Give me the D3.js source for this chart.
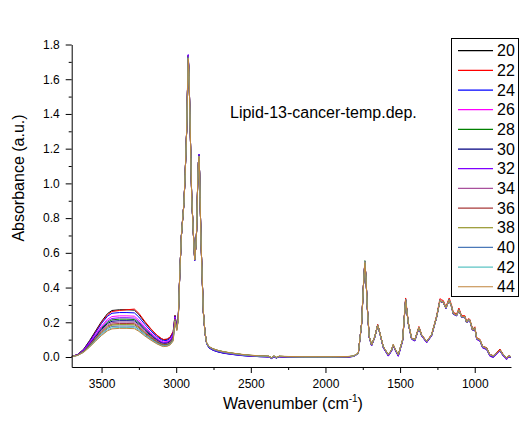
<!DOCTYPE html>
<html><head><meta charset="utf-8">
<script src="https://cdn.jsdelivr.net/npm/d3@7"></script>
<style>
body{margin:0;background:#fff}
svg{display:block}
text{font-family:Arial,"Liberation Sans",Helvetica,sans-serif;fill:#000}
</style>
</head><body>
<svg id="chart" width="521" height="421"></svg>
<script>
const wavenumbers = [3700,3660,3620,3580,3540,3500,3460,3430,3380,3330,3280,3250,3210,3170,3130,3100,3085,3060,3040,3020,3008,2996,
2986,2975,2965,2957,2948,2940,2930,2924,2919,2914,2908,2902,2896,2886,2876,2868,2863,2856,2851,2847,2843,2840,2835,2829,2818,2807,2796,
2780,2752,2720,2680,2620,2560,2500,2440,2380,2360,2345,2330,2310,2250,2150,2050,1950,1850,
1814,1780,1758,1745,1736,1728,1720,1707,1691,1669,1650,1635,1613,1579,1557,1546,1530,1512,
1483,1463,1445,1423,1401,1374,1356,1322,1289,1255,1233,1220,1211,1193,1171,1155,1144,1121,1106,1088,1066,1054,1040,1032,1014,999,987,965,947,920,898,876,853,831,809,787,770,760];

const temperatures = ["20","22","24","26","28","30","32","34","36","38","40","42","44"];
const seriesColors = ["#000000","#ff0000","#0000ff","#ff00ff","#008000","#000080","#8000ff","#a8509c","#a83a3a","#808000","#4a78b8","#5cc4c4","#c0843c"];

const s20 = [.003,.015,.045,.095,.150,.205,.250,.268,.272,.272,.270,.245,.200,.160,.125,.105,.100,.102,.115,.145,.240,.175,
.230,.500,.700,.790,.885,1.05,1.30,1.55,1.730,1.62,1.40,1.15,.920,.730,.560,.640,.730,1.00,1.12,1.160,1.06,.920,.720,.540,.260,.140,.080,
.058,.045,.036,.028,.020,.013,.008,.005,.003,-.006,.005,-.004,.003,.001,.000,.000,.000,.001,
.004,.020,.190,.420,.550,.450,.290,.117,.069,.117,.184,.136,.059,.012,.040,.069,.040,.012,
.098,.330,.194,.107,.098,.170,.126,.088,.126,.232,.326,.318,.318,.282,.330,.290,.251,.241,.272,.232,.232,.200,.215,.210,.155,.167,.107,.098,.059,.050,.012,.006,.021,.040,.012,-.008,.006,.002];

const s22 = [.003,.014,.042,.090,.145,.199,.243,.262,.268,.272,.276,.252,.205,.163,.127,.107,.101,.103,.116,.146,.238,.175,
.230,.500,.700,.790,.885,1.05,1.30,1.55,1.728,1.62,1.40,1.15,.920,.730,.560,.640,.730,1.00,1.12,1.165,1.06,.920,.720,.540,.260,.140,.080,
.056,.043,.034,.026,.018,.011,.007,.004,.002,-.007,.004,-.005,.002,.000,-.001,.000,.000,.001,
.004,.020,.192,.422,.552,.452,.292,.117,.069,.119,.188,.138,.059,.012,.041,.071,.041,.012,
.100,.340,.198,.110,.100,.176,.130,.090,.130,.238,.336,.328,.326,.290,.340,.298,.258,.248,.282,.238,.238,.206,.222,.215,.160,.174,.112,.102,.062,.054,.014,.008,.026,.046,.015,-.006,.008,.003];

const s24 = [.003,.014,.042,.089,.141,.193,.235,.252,.256,.256,.254,.230,.188,.150,.118,.099,.094,.096,.108,.138,.235,.172,
.228,.500,.700,.790,.885,1.05,1.30,1.56,1.740,1.63,1.40,1.15,.920,.730,.556,.640,.730,1.00,1.12,1.168,1.06,.920,.720,.540,.258,.138,.077,
.052,.038,.029,.021,.014,.008,.004,.002,.000,-.009,.002,-.007,.001,-.001,-.002,-.001,-.001,.000,
.003,.019,.190,.420,.548,.448,.288,.114,.065,.115,.184,.134,.055,.007,.036,.066,.036,.006,
.094,.330,.192,.104,.094,.168,.123,.084,.123,.230,.326,.316,.316,.280,.330,.288,.248,.238,.270,.230,.229,.197,.212,.207,.151,.164,.103,.094,.054,.045,.006,.000,.017,.037,.007,-.013,.002,-.002];

const s26 = [.003,.013,.039,.083,.131,.178,.218,.233,.237,.237,.235,.213,.174,.139,.109,.091,.087,.089,.100,.128,.230,.170,
.226,.500,.700,.790,.885,1.05,1.30,1.55,1.735,1.62,1.40,1.15,.920,.730,.560,.640,.730,1.00,1.12,1.162,1.06,.920,.720,.540,.260,.140,.080,
.057,.044,.035,.027,.019,.012,.007,.004,.002,-.007,.004,-.005,.002,.000,.000,.000,.000,.001,
.004,.020,.191,.421,.553,.451,.290,.116,.068,.117,.185,.136,.058,.010,.039,.068,.039,.010,
.097,.332,.194,.106,.097,.170,.126,.087,.126,.233,.328,.319,.319,.283,.331,.290,.251,.241,.273,.232,.232,.200,.215,.210,.154,.167,.106,.097,.058,.049,.010,.005,.021,.040,.011,-.009,.006,.002];

const s28 = [.002,.012,.036,.076,.120,.164,.200,.214,.218,.218,.216,.196,.160,.128,.100,.084,.080,.082,.092,.118,.225,.166,
.224,.500,.700,.790,.885,1.05,1.30,1.55,1.732,1.62,1.40,1.15,.920,.730,.560,.640,.730,1.00,1.12,1.160,1.06,.920,.720,.540,.260,.140,.081,
.059,.046,.037,.029,.021,.014,.009,.006,.004,-.005,.006,-.003,.004,.002,.001,.001,.001,.002,
.005,.021,.191,.421,.555,.451,.291,.118,.070,.118,.185,.137,.060,.013,.041,.070,.041,.013,
.099,.331,.195,.108,.099,.171,.127,.089,.127,.233,.327,.319,.319,.283,.331,.291,.252,.242,.273,.233,.233,.201,.216,.211,.156,.168,.108,.099,.060,.051,.013,.007,.022,.041,.013,-.007,.007,.003];

const s30 = [.002,.012,.035,.073,.116,.158,.193,.206,.209,.209,.208,.189,.154,.123,.096,.081,.077,.079,.089,.114,.222,.164,
.222,.500,.700,.790,.885,1.05,1.30,1.55,1.738,1.62,1.40,1.15,.920,.730,.555,.640,.730,1.00,1.12,1.164,1.06,.920,.720,.540,.258,.138,.078,
.053,.039,.030,.022,.015,.009,.005,.002,.001,-.008,.003,-.006,.001,-.001,-.001,-.001,.000,.000,
.003,.019,.189,.419,.547,.447,.288,.113,.064,.114,.183,.133,.054,.006,.035,.065,.035,.005,
.093,.328,.191,.103,.093,.166,.122,.083,.122,.229,.324,.315,.315,.279,.328,.287,.247,.237,.269,.229,.228,.196,.211,.206,.150,.163,.102,.093,.053,.044,.005,-.001,.016,.036,.006,-.014,.001,-.003];

const s32 = [.003,.012,.037,.079,.125,.170,.208,.222,.226,.226,.224,.203,.166,.133,.104,.087,.083,.085,.095,.122,.227,.168,
.225,.500,.700,.790,.885,1.05,1.30,1.56,1.742,1.63,1.40,1.15,.920,.730,.556,.640,.730,1.00,1.12,1.166,1.06,.920,.720,.540,.258,.138,.078,
.054,.040,.031,.023,.015,.009,.005,.002,.001,-.008,.003,-.006,.001,-.001,-.001,-.001,.000,.000,
.003,.019,.190,.420,.549,.448,.288,.113,.064,.114,.183,.133,.054,.005,.034,.064,.034,.004,
.092,.329,.191,.102,.092,.166,.121,.082,.121,.229,.325,.315,.315,.279,.328,.287,.247,.237,.269,.229,.228,.196,.211,.206,.150,.163,.101,.092,.052,.043,.004,-.002,.015,.035,.005,-.015,.001,-.003];

const s34 = [.002,.011,.033,.070,.111,.152,.185,.198,.201,.201,.200,.181,.148,.118,.093,.078,.074,.075,.085,.110,.219,.162,
.221,.500,.700,.790,.885,1.05,1.30,1.55,1.730,1.62,1.40,1.15,.920,.730,.560,.640,.730,1.00,1.12,1.158,1.06,.920,.720,.540,.260,.140,.080,
.058,.045,.036,.028,.020,.013,.008,.005,.003,-.006,.005,-.004,.003,.001,.000,.000,.000,.001,
.004,.020,.190,.420,.551,.450,.290,.117,.069,.117,.184,.136,.059,.012,.040,.069,.040,.012,
.098,.330,.194,.107,.098,.170,.126,.088,.126,.232,.326,.318,.318,.282,.330,.290,.251,.241,.272,.232,.232,.200,.215,.210,.155,.167,.107,.098,.059,.050,.012,.006,.021,.040,.012,-.008,.006,.002];

const s36 = [.002,.011,.032,.067,.107,.146,.178,.190,.193,.193,.192,.174,.142,.114,.089,.075,.071,.072,.082,.106,.216,.160,
.220,.500,.700,.790,.885,1.05,1.30,1.55,1.726,1.62,1.40,1.15,.920,.730,.560,.640,.730,1.00,1.12,1.158,1.06,.920,.720,.540,.260,.140,.081,
.059,.046,.037,.029,.021,.014,.009,.006,.004,-.005,.006,-.003,.004,.002,.001,.001,.001,.002,
.005,.021,.191,.421,.550,.451,.291,.118,.070,.118,.185,.137,.060,.013,.041,.070,.041,.013,
.099,.331,.195,.108,.099,.171,.127,.089,.127,.233,.327,.319,.319,.283,.331,.291,.252,.242,.273,.233,.233,.201,.216,.211,.156,.168,.108,.099,.060,.051,.013,.007,.022,.041,.013,-.007,.007,.003];

const s38 = [.002,.010,.031,.065,.103,.140,.171,.184,.186,.186,.185,.168,.137,.110,.086,.072,.069,.070,.079,.103,.213,.158,
.218,.500,.700,.790,.885,1.05,1.30,1.55,1.725,1.62,1.40,1.15,.920,.730,.560,.640,.730,1.00,1.12,1.158,1.06,.920,.720,.540,.260,.141,.082,
.060,.047,.038,.030,.022,.015,.010,.006,.004,-.005,.006,-.003,.004,.002,.001,.001,.001,.002,
.005,.021,.190,.420,.548,.450,.290,.118,.070,.118,.184,.137,.060,.013,.041,.070,.041,.013,
.099,.330,.195,.108,.099,.170,.127,.089,.127,.232,.326,.318,.318,.282,.330,.290,.251,.241,.272,.232,.232,.200,.215,.210,.155,.167,.107,.098,.059,.050,.012,.006,.021,.040,.012,-.008,.006,.002];

const s40 = [.002,.010,.029,.062,.098,.134,.164,.176,.178,.178,.177,.160,.131,.105,.082,.069,.066,.067,.075,.099,.210,.156,
.217,.500,.700,.790,.885,1.05,1.30,1.55,1.728,1.62,1.40,1.15,.920,.730,.558,.640,.730,1.00,1.12,1.158,1.06,.920,.720,.540,.259,.139,.079,
.056,.043,.034,.026,.018,.011,.007,.004,.002,-.007,.004,-.005,.002,.000,.000,.000,.000,.001,
.004,.020,.189,.419,.546,.449,.289,.116,.068,.116,.183,.135,.058,.011,.039,.068,.039,.011,
.097,.329,.193,.106,.097,.169,.125,.087,.125,.231,.325,.317,.317,.281,.329,.289,.250,.240,.271,.231,.231,.199,.214,.209,.154,.166,.106,.097,.058,.049,.011,.005,.020,.039,.011,-.009,.005,.001];

const s42 = [.002,.009,.028,.059,.094,.128,.156,.168,.170,.170,.169,.153,.125,.100,.078,.066,.063,.064,.072,.095,.207,.154,
.216,.500,.700,.790,.885,1.05,1.30,1.55,1.722,1.62,1.40,1.15,.920,.730,.560,.640,.730,1.00,1.12,1.158,1.06,.920,.720,.540,.260,.140,.081,
.059,.046,.037,.029,.021,.014,.009,.006,.004,-.005,.006,-.003,.004,.002,.001,.001,.001,.002,
.005,.021,.190,.420,.550,.450,.290,.118,.070,.118,.184,.137,.060,.013,.041,.070,.041,.013,
.099,.330,.195,.108,.099,.170,.127,.089,.127,.232,.326,.318,.318,.282,.330,.290,.251,.241,.272,.232,.232,.200,.215,.210,.155,.167,.107,.098,.059,.050,.012,.006,.021,.040,.012,-.008,.006,.002];

const s44 = [.002,.009,.027,.057,.091,.124,.151,.162,.165,.165,.163,.148,.121,.097,.076,.064,.060,.062,.070,.092,.205,.152,
.215,.500,.700,.790,.885,1.05,1.30,1.55,1.720,1.62,1.40,1.15,.920,.730,.560,.640,.730,1.00,1.12,1.155,1.06,.920,.720,.540,.260,.141,.082,
.060,.047,.038,.030,.022,.015,.010,.007,.005,-.004,.007,-.002,.005,.003,.002,.002,.002,.003,
.006,.022,.190,.420,.545,.450,.290,.119,.071,.119,.184,.138,.061,.014,.042,.071,.042,.014,
.100,.328,.196,.109,.100,.170,.128,.090,.128,.232,.324,.318,.317,.283,.328,.290,.252,.242,.271,.233,.233,.201,.216,.211,.156,.167,.108,.099,.060,.051,.013,.007,.022,.040,.013,-.007,.007,.003];

const seriesValues = [s20,s22,s24,s26,s28,s30,s32,s34,s36,s38,s40,s42,s44];

const xMajorTicks = [3500,3000,2500,2000,1500,1000];
const xMinorTicks = [3250,2750,2250,1750,1250];
const yMajorTicks = [0,0.2,0.4,0.6,0.8,1.0,1.2,1.4,1.6,1.8];
const yMinorTicks = [0.1,0.3,0.5,0.7,0.9,1.1,1.3,1.5,1.7];

const chartTitle = "Lipid-13-cancer-temp.dep.";
const xTitle = "Wavenumber (cm";
const xTitleSup = "-1";
const yTitle = "Absorbance (a.u.)";

const svg = d3.select("#chart");
const plotLeft = 71.7, plotRight = 511, plotTop = 44.5, plotBottom = 367;

const x = d3.scaleLinear().domain([3700, 757]).range([plotLeft, plotRight]);
const y = d3.scaleLinear().domain([-0.0576, 1.8]).range([plotBottom, plotTop]);

const line = d3.line()
  .x((d, i) => x(wavenumbers[i]))
  .y(d => y(d));

const g = svg.append("g");
seriesValues.forEach((vals, k) => {
  g.append("path")
    .datum(vals)
    .attr("fill", "none")
    .attr("stroke", seriesColors[k])
    .attr("stroke-width", 1)
    .attr("stroke-linejoin", "round")
    .attr("d", line);
});

svg.append("g").attr("transform", `translate(0,${plotBottom})`)
  .call(d3.axisBottom(x).tickValues(xMajorTicks).tickSize(6).tickSizeOuter(0).tickPadding(6).tickFormat(d3.format("d")));
svg.append("g").attr("transform", `translate(0,${plotBottom})`)
  .call(d3.axisBottom(x).tickValues(xMinorTicks).tickSize(3).tickSizeOuter(0).tickFormat(""))
  .select(".domain").remove();
svg.append("g").attr("transform", `translate(${plotLeft},0)`)
  .call(d3.axisLeft(y).tickValues(yMajorTicks).tickSize(6).tickSizeOuter(0).tickPadding(6).tickFormat(d3.format(".1f")));
svg.append("g").attr("transform", `translate(${plotLeft},0)`)
  .call(d3.axisLeft(y).tickValues(yMinorTicks).tickSize(3).tickSizeOuter(0).tickFormat(""))
  .select(".domain").remove();

svg.selectAll(".tick text").attr("font-size", 12).attr("font-family", "Arial, 'Liberation Sans', sans-serif").attr("fill", "#000");
svg.selectAll(".domain, .tick line").attr("stroke", "#000").attr("stroke-width", 1);

svg.append("text").attr("x", 230).attr("y", 118).attr("font-size", 16).text(chartTitle);

const xt = svg.append("text").attr("x", 293).attr("y", 409).attr("font-size", 16).attr("text-anchor", "middle");
xt.append("tspan").text(xTitle);
xt.append("tspan").attr("font-size", 10).attr("dy", -7).text(xTitleSup);
xt.append("tspan").attr("dy", 7).text(")");

svg.append("text")
  .attr("transform", `translate(24,178) rotate(-90)`)
  .attr("text-anchor", "middle")
  .attr("font-size", 16)
  .text(yTitle);

const legend = svg.append("g");
legend.append("rect").attr("x", 451.5).attr("y", 38.5).attr("width", 67).attr("height", 258)
  .attr("fill", "#fff").attr("stroke", "#000").attr("stroke-width", 1);
const rowH = 19.67, row0 = 50.7;
temperatures.forEach((t, k) => {
  const cy = row0 + k * rowH;
  legend.append("line").attr("x1", 458).attr("x2", 493).attr("y1", cy).attr("y2", cy)
    .attr("stroke", seriesColors[k]).attr("stroke-width", 1.2);
  legend.append("text").attr("x", 497).attr("y", cy + 5.6).attr("font-size", 16).text(t);
});
</script>
</body></html>
